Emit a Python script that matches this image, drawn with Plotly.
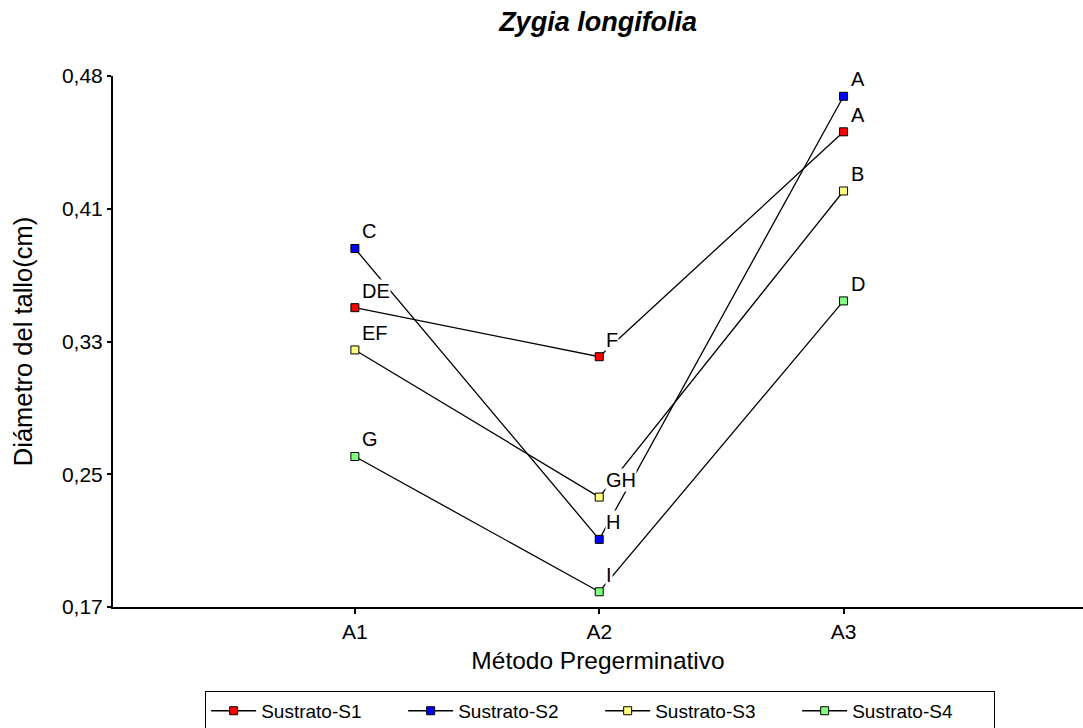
import plotly.graph_objects as go

categories = ["A1", "A2", "A3"]
series_names = ["Sustrato-S1", "Sustrato-S2", "Sustrato-S3", "Sustrato-S4"]
s1_values = [0.347, 0.318, 0.451]
s2_values = [0.382, 0.210, 0.472]
s3_values = [0.322, 0.235, 0.416]
s4_values = [0.259, 0.179, 0.351]
s1_letters = ["DE", "F", "A"]
s2_letters = ["C", "H", "A"]
s3_letters = ["EF", "GH", "B"]
s4_letters = ["G", "I", "D"]
colors = ["#ff0000", "#0000ff", "#ffff80", "#80ff80"]
y_min, y_max = 0.17, 0.484
tick_labels = ["0,17", "0,25", "0,33", "0,41", "0,48"]

values = [s1_values, s2_values, s3_values, s4_values]
letters = [s1_letters, s2_letters, s3_letters, s4_letters]

FONT = "Liberation Sans, Arial, sans-serif"
fig = go.Figure()
annotations = []
for name, vals, col, lets in zip(series_names, values, colors, letters):
    fig.add_trace(go.Scatter(
        x=list(range(len(categories))), y=vals, name=name, mode="lines+markers",
        line=dict(color="black", width=1.3),
        marker=dict(symbol="square", size=8, color=col, line=dict(color="black", width=1)),
    ))
    for i, (v, t) in enumerate(zip(vals, lets)):
        annotations.append(dict(
            x=i, y=v, xref="x", yref="y", text=t, showarrow=False,
            xanchor="left", yanchor="middle", xshift=6, yshift=17,
            bgcolor="white", borderpad=0,
            font=dict(family=FONT, size=20, color="black"),
        ))

n = len(tick_labels)
tick_vals = [y_min + (y_max - y_min) * k / (n - 1) for k in range(n)]

fig.update_layout(
    width=1083, height=728,
    margin=dict(l=113, r=0, t=76, b=121, autoexpand=False),
    paper_bgcolor="white", plot_bgcolor="white",
    title=dict(text="<b><i>Zygia longifolia</i></b>", x=0.5523, xanchor="center",
               y=0.983, yanchor="top",
               font=dict(family=FONT, size=27, color="black")),
    xaxis=dict(
        range=[-0.99, 2.98], tickvals=list(range(len(categories))), ticktext=categories,
        showgrid=False, zeroline=False, showline=True, linecolor="black", linewidth=2,
        ticks="outside", ticklen=5, tickwidth=2, tickcolor="black",
        tickfont=dict(family=FONT, size=21, color="black"),
        title=dict(text="Método Pregerminativo", standoff=10,
                   font=dict(family=FONT, size=24.5, color="black")),
    ),
    yaxis=dict(
        range=[y_min, y_max], tickvals=tick_vals, ticktext=tick_labels,
        showgrid=False, zeroline=False, showline=True, linecolor="black", linewidth=2,
        ticks="outside", ticklen=4, tickwidth=2, tickcolor="black",
        tickfont=dict(family=FONT, size=21, color="black"),
        title=dict(text="Diámetro del tallo(cm)", standoff=22,
                   font=dict(family=FONT, size=25.5, color="black")),
    ),
    legend=dict(
        orientation="h", x=0.095, xanchor="left", y=-0.158, yanchor="top",
        bordercolor="black", borderwidth=1, bgcolor="white",
        font=dict(family=FONT, size=19, color="black"),
        entrywidth=137, entrywidthmode="pixels",
        itemwidth=45, tracegroupgap=0,
    ),
    annotations=annotations,
    showlegend=True,
)

fig.write_html("out.html")
